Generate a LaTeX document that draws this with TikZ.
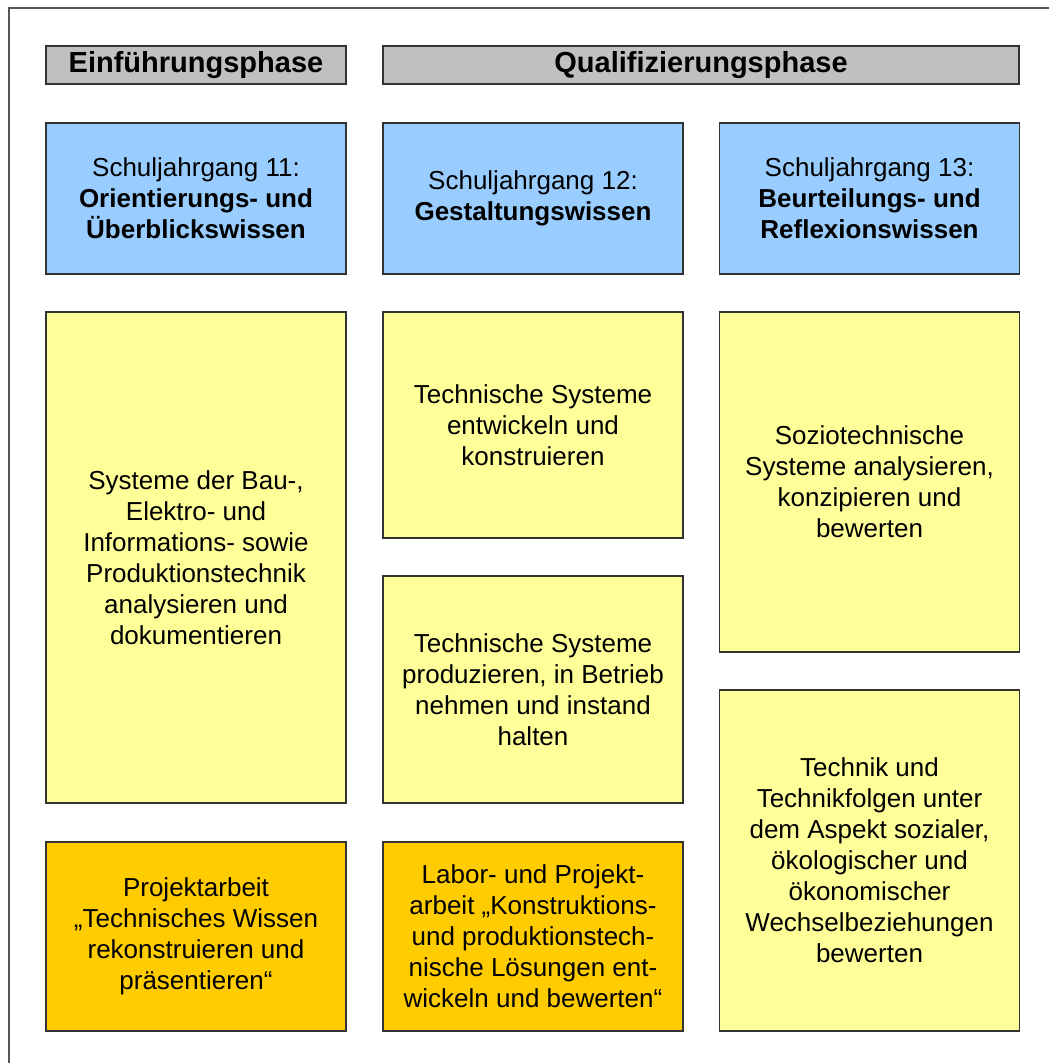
\documentclass[tikz,border=0pt]{standalone}
\usepackage{fontspec}
\setmainfont{Liberation Sans}
\begin{document}
\definecolor{framegray}{HTML}{555555}
\definecolor{edge}{HTML}{333333}
\definecolor{headgray}{HTML}{C0C0C0}
\definecolor{yearblue}{HTML}{99CCFF}
\definecolor{topicyellow}{HTML}{FFFF99}
\definecolor{projorange}{HTML}{FFCC00}
\begin{tikzpicture}[x=1pt,y=-1pt,
  cell/.style={draw=edge, line width=1.8pt, align=center, inner sep=0pt,
    font=\fontsize{26}{31}\selectfont},
  head/.style={cell, fill=headgray, minimum height=38pt,
    font=\fontsize{29}{33}\selectfont\bfseries},
  year/.style={cell, fill=yearblue, minimum width=300pt, minimum height=151pt},
  topic/.style={cell, fill=topicyellow, minimum width=300pt},
  project/.style={cell, fill=projorange, minimum width=300pt, minimum height=189pt}]
\useasboundingbox (0,0) rectangle (1049,1063);
\fill[white] (0,0) rectangle (1049,1063);
% outer frame: top and left edges
\coordinate (fl) at (9,1063);
\coordinate (fc) at (9,8);
\coordinate (fr) at (1049,8);
\draw[framegray, line width=1.8pt] (fl) -- (fc) -- (fr);

% phase headers
\node[head, minimum width=300pt] (einf) at (196,65) {Einführungsphase};
\node[head, minimum width=636pt] (qual) at (701,65) {Qualifizierungsphase};

% school years
\node[year] (j11) at (196,198.5) {Schuljahrgang 11:\\\textbf{Orientierungs- und}\\\textbf{Überblickswissen}};
\node[year] (j12) at (533,198.5) {Schuljahrgang 12:\\\textbf{Gestaltungswissen}};
\node[year] (j13) at (869.5,198.5) {Schuljahrgang 13:\\\textbf{Beurteilungs- und}\\\textbf{Reflexionswissen}};

% topics
\node[topic, minimum height=491pt] (sys) at (196,557.5) {Systeme der Bau-,\\Elektro- und\\Informations- sowie\\Produktionstechnik\\analysieren und\\dokumentieren};
\node[topic, minimum height=226pt] (entw) at (533,425) {Technische Systeme\\entwickeln und\\konstruieren};
\node[topic, minimum height=227pt] (prod) at (533,689.5) {Technische Systeme\\produzieren, in Betrieb\\nehmen und instand\\halten};
\node[topic, minimum height=340pt] (sozio) at (869.5,482) {Soziotechnische\\Systeme analysieren,\\konzipieren und\\bewerten};
\node[topic, minimum height=341pt] (folgen) at (869.5,860.5) {Technik und\\Technikfolgen unter\\dem Aspekt sozialer,\\ökologischer und\\ökonomischer\\Wechselbeziehungen\\bewerten};

% project work
\node[project] (proj11) at (196,936.5) {Projektarbeit\\„Technisches Wissen\\rekonstruieren und\\präsentieren“};
\node[project] (proj12) at (533,936.5) {Labor- und Projekt-\\arbeit „Konstruktions-\\und produktionstech-\\nische Lösungen ent-\\wickeln und bewerten“};
\end{tikzpicture}
\end{document}
